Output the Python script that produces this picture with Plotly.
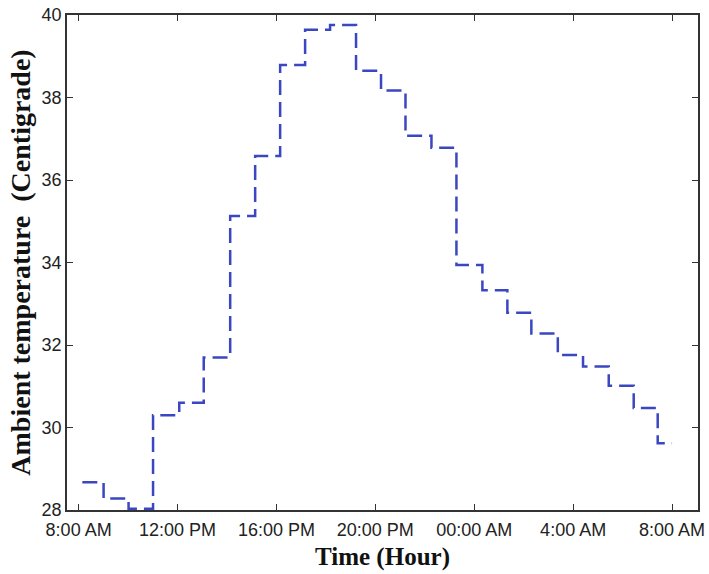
import plotly.graph_objects as go

# Hours elapsed since 8:00 AM at which each step starts (last entry = end of the final step)
times = [0.15, 1.01, 2.02, 3.01, 4.07, 5.06, 6.13, 7.14, 8.15, 9.16, 10.17, 11.22,
         12.23, 13.22, 14.27, 15.28, 16.33, 17.34, 18.31, 19.38, 20.40, 21.44, 22.45, 23.42, 24.0]
temps = [28.67, 28.28, 28.03, 30.30, 30.60, 31.70, 35.13, 36.58, 38.79, 39.64, 39.76, 38.65,
         38.17, 37.07, 36.78, 33.94, 33.33, 32.78, 32.28, 31.76, 31.48, 31.01, 30.47, 29.62, 29.62]

tick_hours = [0, 4, 8, 12, 16, 20, 24]
tick_labels = ["8:00 AM", "12:00 PM", "16:00 PM", "20:00 PM", "00:00 AM", "4:00 AM", "8:00 AM"]
y_ticks = [28, 30, 32, 34, 36, 38, 40]

fig = go.Figure()
fig.add_trace(go.Scatter(
    x=times, y=temps, mode="lines", line_shape="hv",
    line=dict(color="#3B47C2", width=2.5, dash="15px,7px"),
    showlegend=False,
))

axis_common = dict(
    showgrid=False, zeroline=False, showline=True, linecolor="#333333", linewidth=1.5,
    mirror="ticks", ticks="inside", ticklen=6, tickwidth=1.2, tickcolor="#333333",
    tickfont=dict(family="Liberation Sans, Arial, sans-serif", size=18, color="#222222"),
    automargin=False,
)

fig.update_xaxes(
    range=[-0.47, 25.05], tickvals=tick_hours, ticktext=tick_labels,
    ticklabelstandoff=3,
    title=dict(text="<b>Time (Hour)</b>", standoff=8,
               font=dict(family="Liberation Serif, Times New Roman, serif", size=25, color="#111111")),
    **axis_common,
)
fig.update_yaxes(
    range=[28, 40], tickvals=y_ticks,
    title=dict(text="<b>Ambient temperature  (Centigrade)</b>", standoff=3,
               font=dict(family="Liberation Serif, Times New Roman, serif", size=28, color="#111111")),
    **axis_common,
)

fig.update_layout(
    width=709, height=574,
    margin=dict(l=67, r=11, t=15, b=64),
    paper_bgcolor="white", plot_bgcolor="white",
)

fig.write_html("out.html")
